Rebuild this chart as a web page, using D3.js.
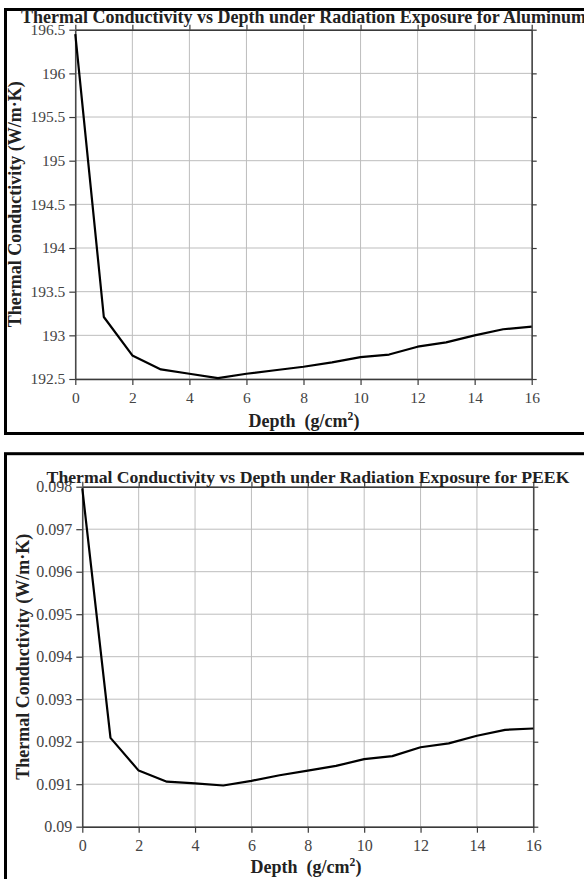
<!DOCTYPE html>
<html>
<head>
<meta charset="utf-8">
<script src="https://cdn.jsdelivr.net/npm/d3@7/dist/d3.min.js"></script>
<style>
  html, body { margin: 0; padding: 0; background: #fff; }
  svg { display: block; }
  text { font-family: "Liberation Serif", "Times New Roman", serif; }
</style>
</head>
<body>
<svg id="chart" width="584" height="879"></svg>
<script>
// ---------- DATA ----------
const depth = [0, 1, 2, 3, 4, 5, 6, 7, 8, 9, 10, 11, 12, 13, 14, 15, 16];
const aluminumK = [196.45, 193.21, 192.77, 192.61, 192.56, 192.51, 192.56, 192.60, 192.64, 192.69, 192.75, 192.78, 192.87, 192.92, 193.00, 193.07, 193.10];
const peekK = [0.09796, 0.09209, 0.09132, 0.09106, 0.09102, 0.09097, 0.09108, 0.09121, 0.09132, 0.09143, 0.09159, 0.09166, 0.09187, 0.09196, 0.09214, 0.09228, 0.09231];
const xTicks = [0, 2, 4, 6, 8, 10, 12, 14, 16];
const aluminumYTicks = [192.5, 193, 193.5, 194, 194.5, 195, 195.5, 196, 196.5];
const peekYTicks = [0.09, 0.091, 0.092, 0.093, 0.094, 0.095, 0.096, 0.097, 0.098];
const titleAluminum = "Thermal Conductivity vs Depth under Radiation Exposure for Aluminum";
const titlePeek = "Thermal Conductivity vs Depth under Radiation Exposure for PEEK";
const yTitle = "Thermal Conductivity (W/m·K)";

const svg = d3.select("#chart");
const serif = '"Liberation Serif", "Times New Roman", serif';

function drawChart(cfg) {
  const g = svg.append("g");
  // outer box
  g.append("rect")
    .attr("x", cfg.box.x).attr("y", cfg.box.y)
    .attr("width", cfg.box.w).attr("height", cfg.box.h)
    .attr("fill", "none").attr("stroke", "#000").attr("stroke-width", 3);

  const x = d3.scaleLinear().domain([0, 16]).range([cfg.plot.left, cfg.plot.right]);
  const y = d3.scaleLinear().domain([cfg.yTicks[0], cfg.yTicks[cfg.yTicks.length - 1]])
    .range([cfg.plot.bottom, cfg.plot.top]);

  // gridlines
  g.append("g").selectAll("line").data(cfg.xTicks).join("line")
    .attr("x1", d => x(d)).attr("x2", d => x(d))
    .attr("y1", cfg.plot.top).attr("y2", cfg.plot.bottom)
    .attr("stroke", "#bdbdbd").attr("stroke-width", 1);
  g.append("g").selectAll("line").data(cfg.yTicks).join("line")
    .attr("x1", cfg.plot.left).attr("x2", cfg.plot.right)
    .attr("y1", d => y(d)).attr("y2", d => y(d))
    .attr("stroke", "#bdbdbd").attr("stroke-width", 1);

  const axisColor = "#3a3a3a";
  const styleAxis = sel => {
    sel.attr("font-family", null).attr("font-size", null);
    sel.selectAll(".domain").attr("stroke", axisColor).attr("stroke-width", 1.4);
    sel.selectAll(".tick line").attr("stroke", axisColor).attr("stroke-width", 1.2);
    sel.selectAll(".tick text").attr("fill", "#444")
      .style("font-size", cfg.tickFont + "px")
      .style("font-family", serif);
  };

  g.append("g").attr("transform", `translate(0,${cfg.plot.bottom})`)
    .call(d3.axisBottom(x).tickValues(cfg.xTicks).tickSize(6).tickSizeOuter(0).tickPadding(cfg.xPad).tickFormat(d => d))
    .call(styleAxis);
  g.append("g").attr("transform", `translate(0,${cfg.plot.top})`)
    .call(d3.axisTop(x).tickValues(cfg.xTicks).tickSize(5).tickSizeOuter(0).tickFormat(""))
    .call(styleAxis);
  g.append("g").attr("transform", `translate(${cfg.plot.left},0)`)
    .call(d3.axisLeft(y).tickValues(cfg.yTicks).tickSize(6).tickSizeOuter(0).tickPadding(cfg.yPad).tickFormat(d => String(d)))
    .call(styleAxis);
  g.append("g").attr("transform", `translate(${cfg.plot.right},0)`)
    .call(d3.axisRight(y).tickValues(cfg.yTicks).tickSize(5).tickSizeOuter(0).tickFormat(""))
    .call(styleAxis);

  // data line
  const line = d3.line().x((d, i) => x(depth[i])).y(d => y(d));
  g.append("path").datum(cfg.values)
    .attr("d", line).attr("fill", "none")
    .attr("stroke", "#000").attr("stroke-width", 2.2).attr("stroke-linejoin", "round");

  // title
  g.append("text")
    .attr("x", cfg.titleX).attr("y", cfg.titleY)
    .attr("text-anchor", "middle").attr("font-weight", "bold")
    .style("font-size", cfg.titleFont + "px").attr("fill", "#222")
    .text(cfg.title);

  // y title
  g.append("text")
    .attr("transform", `translate(${cfg.yTitleX},${(cfg.plot.top + cfg.plot.bottom) / 2}) rotate(-90)`)
    .attr("text-anchor", "middle").attr("dominant-baseline", "central")
    .attr("font-weight", "bold").style("font-size", cfg.axisTitleFont + "px").attr("fill", "#222")
    .text(yTitle);

  // x title
  const xt = g.append("text")
    .attr("x", cfg.xTitleX).attr("y", cfg.xTitleY)
    .attr("text-anchor", "middle").attr("font-weight", "bold")
    .style("font-size", cfg.axisTitleFont + "px").attr("fill", "#222");
  xt.append("tspan").text("Depth\u00a0\u00a0(g/cm");
  xt.append("tspan").attr("dy", -7).style("font-size", (cfg.axisTitleFont * 0.65) + "px").text("2");
  xt.append("tspan").attr("dy", 7).text(")");
}

drawChart({
  box: { x: 5.5, y: 9.5, w: 620, h: 424 },
  plot: { left: 75.3, top: 29.7, right: 531.7, bottom: 379 },
  values: aluminumK, yTicks: aluminumYTicks, xTicks: xTicks,
  title: titleAluminum, titleX: 303.5, titleY: 23.3, titleFont: 18,
  yTitleX: 14.5, xTitleX: 304, xTitleY: 427, axisTitleFont: 18,
  tickFont: 15.5, xPad: 7, yPad: 4
});

drawChart({
  box: { x: 5.5, y: 453.7, w: 620, h: 440 },
  plot: { left: 82.3, top: 486.7, right: 533.3, bottom: 826.7 },
  values: peekK, yTicks: peekYTicks, xTicks: xTicks,
  title: titlePeek, titleX: 308, titleY: 482.7, titleFont: 17.7,
  yTitleX: 23, xTitleX: 306, xTitleY: 873, axisTitleFont: 18,
  tickFont: 16, xPad: 7, yPad: 4
});
</script>
</body>
</html>
